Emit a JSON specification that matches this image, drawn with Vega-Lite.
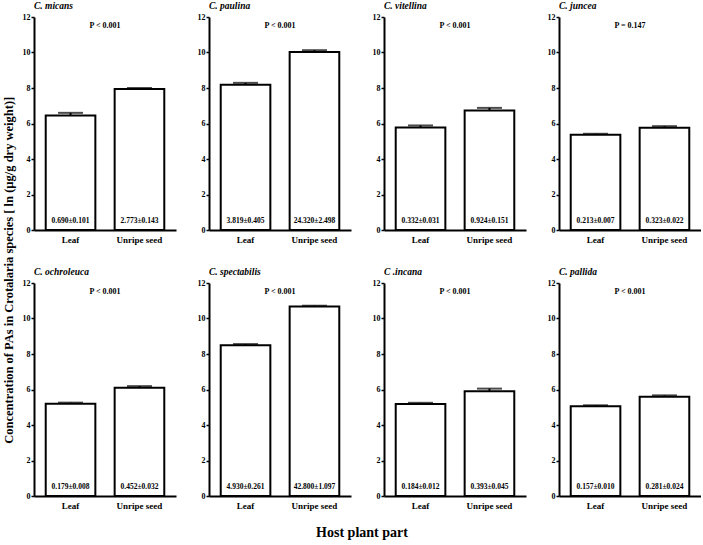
{
  "$schema": "https://vega.github.io/schema/vega-lite/v6.json",
  "padding": {"left": 2, "top": 0, "right": 0, "bottom": 5},
  "background": "white",
  "title": {
    "text": "Concentration of PAs in Crotalaria species [ ln (µg/g dry weight)]",
    "orient": "left",
    "anchor": "middle",
    "font": "Liberation Serif",
    "fontSize": 12.5,
    "fontWeight": "bold",
    "color": "black",
    "offset": 7
  },
  "data": {
    "values": [
      {"species": "C. micans", "part": "Leaf", "value": 6.45, "upper": 6.6, "label": "0.690±0.101", "p": "P < 0.001"},
      {"species": "C. micans", "part": "Unripe seed", "value": 7.94, "upper": 8.0, "label": "2.773±0.143", "p": "P < 0.001"},
      {"species": "C. paulina", "part": "Leaf", "value": 8.18, "upper": 8.29, "label": "3.819±0.405", "p": "P < 0.001"},
      {"species": "C. paulina", "part": "Unripe seed", "value": 10.03, "upper": 10.13, "label": "24.320±2.498", "p": "P < 0.001"},
      {"species": "C. vitellina", "part": "Leaf", "value": 5.77, "upper": 5.89, "label": "0.332±0.031", "p": "P < 0.001"},
      {"species": "C. vitellina", "part": "Unripe seed", "value": 6.73, "upper": 6.88, "label": "0.924±0.151", "p": "P < 0.001"},
      {"species": "C. juncea", "part": "Leaf", "value": 5.37, "upper": 5.42, "label": "0.213±0.007", "p": "P = 0.147"},
      {"species": "C. juncea", "part": "Unripe seed", "value": 5.76, "upper": 5.85, "label": "0.323±0.022", "p": "P = 0.147"},
      {"species": "C. ochroleuca", "part": "Leaf", "value": 5.2, "upper": 5.26, "label": "0.179±0.008", "p": "P < 0.001"},
      {"species": "C. ochroleuca", "part": "Unripe seed", "value": 6.1, "upper": 6.19, "label": "0.452±0.032", "p": "P < 0.001"},
      {"species": "C. spectabilis", "part": "Leaf", "value": 8.5, "upper": 8.56, "label": "4.930±0.261", "p": "P < 0.001"},
      {"species": "C. spectabilis", "part": "Unripe seed", "value": 10.68, "upper": 10.72, "label": "42.800±1.097", "p": "P < 0.001"},
      {"species": "C .incana", "part": "Leaf", "value": 5.18, "upper": 5.25, "label": "0.184±0.012", "p": "P < 0.001"},
      {"species": "C .incana", "part": "Unripe seed", "value": 5.9, "upper": 6.05, "label": "0.393±0.045", "p": "P < 0.001"},
      {"species": "C. pallida", "part": "Leaf", "value": 5.05, "upper": 5.11, "label": "0.157±0.010", "p": "P < 0.001"},
      {"species": "C. pallida", "part": "Unripe seed", "value": 5.59, "upper": 5.67, "label": "0.281±0.024", "p": "P < 0.001"}
    ]
  },
  "columns": 4,
  "spacing": {"column": 21, "row": 22},
  "facet": {
    "field": "species",
    "type": "nominal",
    "title": "Host plant part",
    "sort": ["C. micans", "C. paulina", "C. vitellina", "C. juncea", "C. ochroleuca", "C. spectabilis", "C .incana", "C. pallida"],
    "header": {
      "titleOrient": "bottom",
      "titleFont": "Liberation Serif",
      "titleFontSize": 14,
      "titleFontWeight": "bold",
      "titleColor": "black",
      "titlePadding": 16,
      "labelFont": "Liberation Serif",
      "labelFontSize": 9.5,
      "labelFontWeight": "bold",
      "labelFontStyle": "italic",
      "labelColor": "black",
      "labelAnchor": "start",
      "labelPadding": 3
    }
  },
  "resolve": {"axis": {"x": "independent", "y": "independent"}},
  "spec": {
    "width": 142,
    "height": 213,
    "encoding": {
      "x": {
        "field": "part",
        "type": "nominal",
        "sort": ["Leaf", "Unripe seed"],
        "scale": {"paddingInner": 0.28, "paddingOuter": 0.17},
        "axis": {
          "title": null,
          "labelAngle": 0,
          "ticks": false,
          "labelPadding": 5,
          "labelFont": "Liberation Serif",
          "labelFontSize": 9,
          "labelFontWeight": "bold",
          "labelColor": "black",
          "domainColor": "black",
          "domainWidth": 2
        }
      }
    },
    "layer": [
      {
        "mark": {"type": "bar", "fill": "white", "stroke": "black", "strokeWidth": 2},
        "encoding": {
          "y": {
            "field": "value",
            "type": "quantitative",
            "scale": {"domain": [0, 12], "nice": false},
            "axis": {"title": null, "values": [0, 2, 4, 6, 8, 10, 12]}
          }
        }
      },
      {
        "mark": {"type": "rule", "stroke": "black", "strokeWidth": 2},
        "encoding": {
          "y": {"field": "value", "type": "quantitative", "axis": {"title": null, "values": [0, 2, 4, 6, 8, 10, 12]}},
          "y2": {"field": "upper"}
        }
      },
      {
        "mark": {"type": "tick", "color": "black", "thickness": 2, "size": 25, "orient": "horizontal"},
        "encoding": {
          "y": {"field": "upper", "type": "quantitative", "axis": {"title": null, "values": [0, 2, 4, 6, 8, 10, 12]}}
        }
      },
      {
        "mark": {"type": "text", "font": "Liberation Serif", "fontSize": 7.5, "fontWeight": "bold", "color": "black", "baseline": "middle"},
        "encoding": {
          "y": {"datum": 0.5, "axis": {"title": null, "values": [0, 2, 4, 6, 8, 10, 12]}},
          "text": {"field": "label"}
        }
      },
      {
        "transform": [{"filter": "datum.part === 'Leaf'"}],
        "mark": {"type": "text", "font": "Liberation Serif", "fontSize": 8, "fontWeight": "bold", "color": "black", "baseline": "middle"},
        "encoding": {
          "x": null,
          "y": {"datum": 11.5, "axis": {"title": null, "values": [0, 2, 4, 6, 8, 10, 12]}},
          "text": {"field": "p"}
        }
      }
    ]
  },
  "config": {
    "view": {"stroke": null},
    "axisY": {
      "grid": false,
      "tickSize": 3,
      "tickWidth": 1.5,
      "tickColor": "black",
      "domainColor": "black",
      "domainWidth": 2,
      "labelPadding": 1,
      "labelFont": "Liberation Serif",
      "labelFontSize": 8,
      "labelFontWeight": "bold",
      "labelColor": "black"
    }
  }
}
